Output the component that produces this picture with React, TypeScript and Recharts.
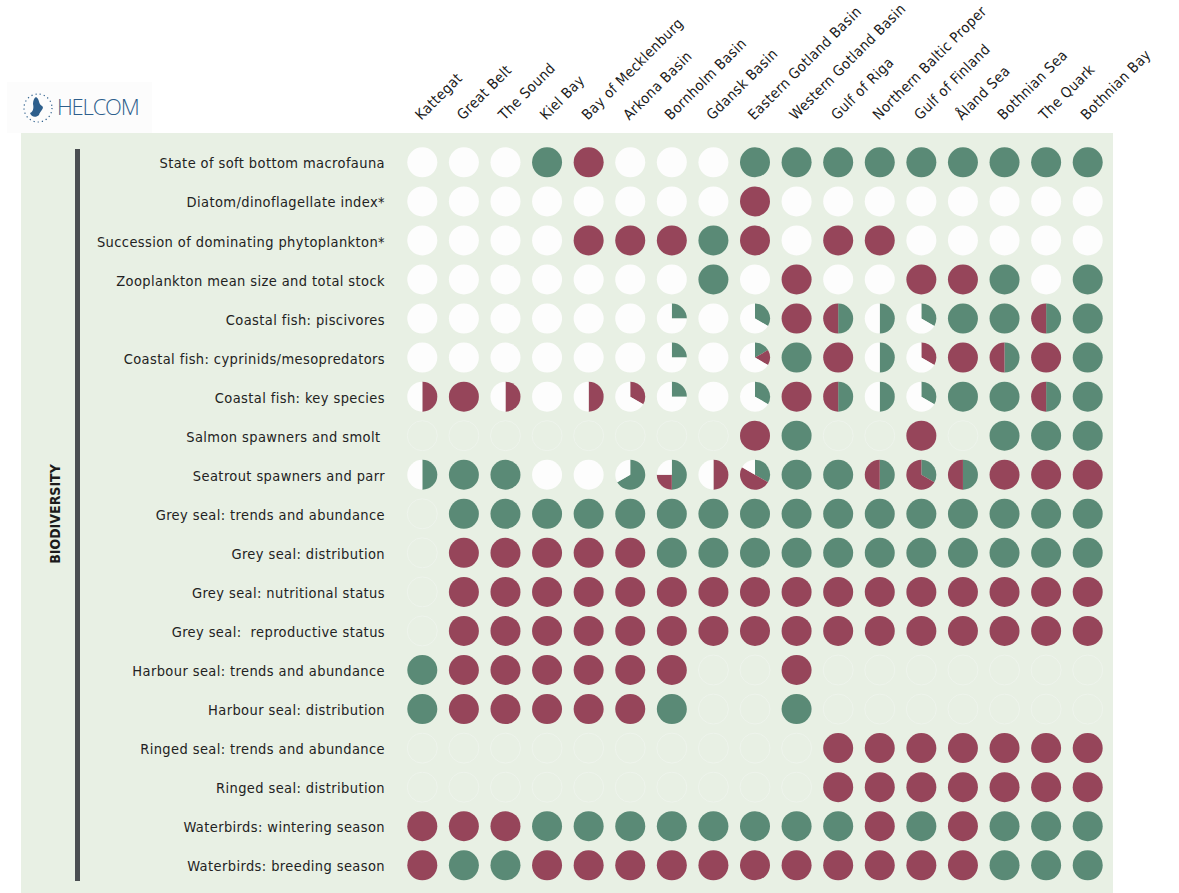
import React from "react";
import { ScatterChart, Scatter, XAxis, YAxis } from "recharts";

// shares of a cell: [good (green), not good (red), not assessed (white)]
type Parts = [number, number, number] | null;

const G: Parts = [1, 0, 0];
const R: Parts = [0, 1, 0];
const W: Parts = [0, 0, 1];
const N: Parts = null;

const basins = [
  "Kattegat",
  "Great Belt",
  "The Sound",
  "Kiel Bay",
  "Bay of Mecklenburg",
  "Arkona Basin",
  "Bornholm Basin",
  "Gdansk Basin",
  "Eastern Gotland Basin",
  "Western Gotland Basin",
  "Gulf of Riga",
  "Northern Baltic Proper",
  "Gulf of Finland",
  "Åland Sea",
  "Bothnian Sea",
  "The Quark",
  "Bothnian Bay",
];

const indicators = [
  "State of soft bottom macrofauna",
  "Diatom/dinoflagellate index*",
  "Succession of dominating phytoplankton*",
  "Zooplankton mean size and total stock",
  "Coastal fish: piscivores",
  "Coastal fish: cyprinids/mesopredators",
  "Coastal fish: key species",
  "Salmon spawners and smolt ",
  "Seatrout spawners and parr",
  "Grey seal: trends and abundance",
  "Grey seal: distribution",
  "Grey seal: nutritional status",
  "Grey seal:  reproductive status",
  "Harbour seal: trends and abundance",
  "Harbour seal: distribution",
  "Ringed seal: trends and abundance",
  "Ringed seal: distribution",
  "Waterbirds: wintering season",
  "Waterbirds: breeding season",
];

const softBottom: Parts[] = [W, W, W, G, R, W, W, W, G, G, G, G, G, G, G, G, G];
const diatomIndex: Parts[] = [W, W, W, W, W, W, W, W, R, W, W, W, W, W, W, W, W];
const phytoSuccession: Parts[] = [W, W, W, W, R, R, R, G, R, W, R, R, W, W, W, W, W];
const zooplankton: Parts[] = [W, W, W, W, W, W, W, G, W, R, W, W, R, R, G, W, G];
const piscivores: Parts[] = [
  W, W, W, W, W, W, [0.25, 0, 0.75], W, [1 / 3, 0, 2 / 3], R,
  [0.5, 0.5, 0], [0.5, 0, 0.5], [1 / 3, 0, 2 / 3], G, G, [0.5, 0.5, 0], G,
];
const cyprinids: Parts[] = [
  W, W, W, W, W, W, [0.25, 0, 0.75], W, [1 / 6, 1 / 6, 2 / 3], G,
  R, [0.5, 0, 0.5], [0, 1 / 3, 2 / 3], R, [0.5, 0.5, 0], R, G,
];
const keySpecies: Parts[] = [
  [0, 0.5, 0.5], R, [0, 0.5, 0.5], W, [0, 0.5, 0.5], [0, 1 / 3, 2 / 3], [0.25, 0, 0.75], W,
  [1 / 3, 0, 2 / 3], R, [0.5, 0.5, 0], [0.5, 0, 0.5], [1 / 3, 0, 2 / 3], G, G, [0.5, 0.5, 0], G,
];
const salmon: Parts[] = [N, N, N, N, N, N, N, N, R, G, N, N, R, N, G, G, G];
const seatrout: Parts[] = [
  [0.5, 0, 0.5], G, G, W, W, [2 / 3, 0, 1 / 3], [0.5, 0.25, 0.25], [0, 0.5, 0.5],
  [1 / 3, 1 / 2, 1 / 6], G, G, [0.5, 0.5, 0], [1 / 3, 2 / 3, 0], [0.5, 0.5, 0], R, R, R,
];
const greySealTrends: Parts[] = [N, G, G, G, G, G, G, G, G, G, G, G, G, G, G, G, G];
const greySealDistribution: Parts[] = [N, R, R, R, R, R, G, G, G, G, G, G, G, G, G, G, G];
const greySealNutrition: Parts[] = [N, R, R, R, R, R, R, R, R, R, R, R, R, R, R, R, R];
const greySealReproduction: Parts[] = [N, R, R, R, R, R, R, R, R, R, R, R, R, R, R, R, R];
const harbourSealTrends: Parts[] = [G, R, R, R, R, R, R, N, N, R, N, N, N, N, N, N, N];
const harbourSealDistribution: Parts[] = [G, R, R, R, R, R, G, N, N, G, N, N, N, N, N, N, N];
const ringedSealTrends: Parts[] = [N, N, N, N, N, N, N, N, N, N, R, R, R, R, R, R, R];
const ringedSealDistribution: Parts[] = [N, N, N, N, N, N, N, N, N, N, R, R, R, R, R, R, R];
const birdsWintering: Parts[] = [R, R, R, G, G, G, G, G, G, G, G, R, G, R, G, G, G];
const birdsBreeding: Parts[] = [R, G, G, R, R, R, R, R, R, R, R, R, R, R, G, G, G];

const rows = [
  softBottom, diatomIndex, phytoSuccession, zooplankton, piscivores, cyprinids, keySpecies,
  salmon, seatrout, greySealTrends, greySealDistribution, greySealNutrition, greySealReproduction,
  harbourSealTrends, harbourSealDistribution, ringedSealTrends, ringedSealDistribution,
  birdsWintering, birdsBreeding,
];

const cells = rows.flatMap((row, yi) => row.map((parts, xi) => ({ x: xi, y: yi, parts })));

const GREEN = "#5a8a76";
const RED = "#96455a";
const WHITE = "#fdfdfd";
const COLORS = [GREEN, RED, WHITE];
const FONT = "'DejaVu Sans Condensed', 'DejaVu Sans', sans-serif";
const RADIUS = 15;

function PieCell(props: any) {
  const { cx, cy, payload } = props;
  const parts: Parts = payload.parts;
  if (!parts) {
    return <circle cx={cx} cy={cy} r={RADIUS} fill="none" stroke="#eef4ec" strokeWidth={1} />;
  }
  const pieces: React.ReactNode[] = [];
  let acc = 0;
  parts.forEach((f, k) => {
    if (f <= 0) return;
    if (f > 0.999) {
      pieces.push(<circle key={k} cx={cx} cy={cy} r={RADIUS} fill={COLORS[k]} />);
      acc += f;
      return;
    }
    const a0 = -Math.PI / 2 + acc * 2 * Math.PI;
    acc += f;
    const a1 = -Math.PI / 2 + acc * 2 * Math.PI;
    const x0 = cx + RADIUS * Math.cos(a0);
    const y0 = cy + RADIUS * Math.sin(a0);
    const x1 = cx + RADIUS * Math.cos(a1);
    const y1 = cy + RADIUS * Math.sin(a1);
    const large = f > 0.5 ? 1 : 0;
    pieces.push(
      <path
        key={k}
        d={`M${cx},${cy} L${x0},${y0} A${RADIUS},${RADIUS} 0 ${large} 1 ${x1},${y1} Z`}
        fill={COLORS[k]}
      />
    );
  });
  return <g>{pieces}</g>;
}

function BasinTick(props: any) {
  const { x, y, payload } = props;
  return (
    <text
      x={0}
      y={0}
      transform={`translate(${x - 1},${y - 14}) rotate(-45)`}
      fontSize={14.5}
      letterSpacing={0.4}
      fontFamily={FONT}
      fill="#1b1b1b"
    >
      {basins[payload.value]}
    </text>
  );
}

function IndicatorTick(props: any) {
  const { x, y, payload } = props;
  return (
    <text
      x={x - 8.5}
      y={y}
      dy="0.42em"
      textAnchor="end"
      fontSize={14.5}
      letterSpacing={0.4}
      fontFamily={FONT}
      fill="#222"
      style={{ whiteSpace: "pre" }}
    >
      {indicators[payload.value]}
    </text>
  );
}

export default function App() {
  return (
    <div style={{ position: "absolute", left: 0, top: 0, width: 1179, height: 893, background: "#fff", overflow: "hidden" }}>
      <div style={{ position: "absolute", left: 21, top: 133, width: 1092, height: 760, background: "#e8f0e4" }} />
      <div style={{ position: "absolute", left: 7, top: 82, width: 145, height: 51, background: "#fcfcfc" }}>
        <svg width={34} height={34} style={{ position: "absolute", left: 14, top: 9 }}>
          <circle cx={17} cy={17} r={14} fill="none" stroke="#2e5f8c" strokeWidth={1.2} strokeDasharray="1.2 3" />
          <path d="M15 6 C19 8 17 13 21 15 C24 17 19 20 18 24 C15 27 10 26 9 22 C12 21 13 17 12 13 C12 10 13 7 15 6 Z" fill="#2e5f8c" />
        </svg>
        <div
          style={{
            position: "absolute",
            left: 50,
            top: 10,
            fontFamily: "'Open Sans', sans-serif",
            fontWeight: 300,
            fontSize: 22,
            letterSpacing: -1.2,
            color: "#2e5f8c",
            lineHeight: "28px",
          }}
        >
          HELCOM
        </div>
      </div>
      <div style={{ position: "absolute", left: 75, top: 149, width: 5, height: 732, background: "#4a4e52" }} />
      <div
        style={{
          position: "absolute",
          left: 55,
          top: 514,
          transform: "translate(-50%, -50%) rotate(-90deg)",
          fontFamily: FONT,
          fontWeight: "bold",
          fontSize: 14,
          color: "#1b1b1b",
          whiteSpace: "nowrap",
        }}
      >
        BIODIVERSITY
      </div>
      <div style={{ position: "absolute", left: 0, top: 0 }}>
        <ScatterChart width={1179} height={893} margin={{ top: 0, right: 70.5, bottom: 8.2, left: 0 }}>
          <XAxis
            type="number"
            dataKey="x"
            orientation="top"
            domain={[-0.5, basins.length - 0.5]}
            ticks={basins.map((_, i) => i)}
            interval={0}
            height={142.8}
            axisLine={false}
            tickLine={false}
            tick={<BasinTick />}
          />
          <YAxis
            type="number"
            dataKey="y"
            reversed
            domain={[-0.5, indicators.length - 0.5]}
            ticks={indicators.map((_, i) => i)}
            interval={0}
            width={401.5}
            axisLine={false}
            tickLine={false}
            tick={<IndicatorTick />}
          />
          <Scatter data={cells} shape={PieCell} isAnimationActive={false} />
        </ScatterChart>
      </div>
    </div>
  );
}
